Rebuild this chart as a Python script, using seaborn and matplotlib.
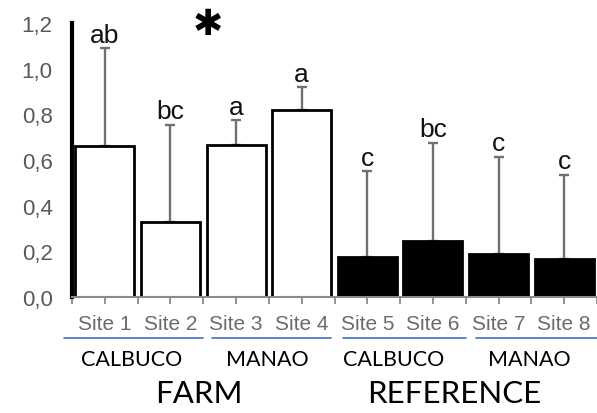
import matplotlib
matplotlib.use("Agg")
import matplotlib.pyplot as plt
import matplotlib.transforms as mtransforms
import seaborn as sns
import pandas as pd

sns.set_theme(style="white")
plt.rcParams["font.family"] = ["Liberation Sans", "DejaVu Sans"]

# Data
sites = ["Site 1", "Site 2", "Site 3", "Site 4", "Site 5", "Site 6", "Site 7", "Site 8"]
means = [0.66, 0.33, 0.665, 0.82, 0.175, 0.245, 0.19, 0.165]
sd_upper = [0.43, 0.425, 0.11, 0.10, 0.375, 0.43, 0.425, 0.37]
letters = ["ab", "bc", "a", "a", "c", "bc", "c", "c"]
habitat = ["FARM"] * 4 + ["REFERENCE"] * 4
locality = ["CALBUCO", "MANAO", "CALBUCO", "MANAO"]
yticks = [0.0, 0.2, 0.4, 0.6, 0.8, 1.0, 1.2]

df = pd.DataFrame({"site": sites, "mean": means, "habitat": habitat})

fig = plt.figure(figsize=(5.97, 4.14), dpi=100)
W, H = 597, 414
ax = fig.add_axes([72 / W, 1 - 298 / H, (597 - 72) / W, (298 - 24) / H])

sns.barplot(data=df, x="site", y="mean", hue="habitat",
            palette={"FARM": "white", "REFERENCE": "black"},
            dodge=False, width=0.9, edgecolor="black", linewidth=2,
            legend=False, ax=ax, zorder=2)

xs = list(range(len(sites)))
ax.errorbar(xs, means, yerr=[[0] * len(means), sd_upper], fmt="none",
            ecolor="#707070", elinewidth=1.7, capsize=3.8, capthick=1.7, zorder=1)

for x, m, s, lab in zip(xs, means, sd_upper, letters):
    ax.text(x, m + s + 0.028, lab, ha="center", va="baseline", fontsize=19, color="#111111")

ax.text(1.57, 1.195, "\u2731", ha="center", va="center", fontsize=26,
        family=["DejaVu Sans"], color="black", clip_on=False)

ax.set_xlim(-0.48, 7.37)
ax.set_ylim(0, 1.2)
ax.set_yticks(yticks)
ax.set_yticklabels([f"{v:.1f}".replace(".", ",") for v in yticks],
                   fontsize=16, color="#595959")
ax.tick_params(axis="y", length=0, pad=14)
ax.set_xticks(xs)
ax.set_xticklabels(sites, fontsize=15, color="#6b6b6b")
ax.set_xticks([x + 0.5 for x in [-1] + xs], minor=True)
ax.tick_params(axis="x", which="both", length=5, width=1.3, color="#8a8a8a",
               direction="out", bottom=True, pad=7.5)
ax.set_xlabel("")
ax.set_ylabel("")

for side in ["top", "right"]:
    ax.spines[side].set_visible(False)
ax.spines["left"].set_color("black")
ax.spines["left"].set_linewidth(3)
ax.spines["bottom"].set_color("#8a8a8a")
ax.spines["bottom"].set_linewidth(1.5)

trans = mtransforms.blended_transform_factory(ax.transData, ax.transAxes)

# Locality underlines and labels
spans = [(-0.62, 1.49), (1.64, 3.45), (3.63, 5.51), (5.66, 7.6)]
for (a, b) in spans:
    ax.plot([a, b], [-0.15, -0.15], transform=trans, color="#4472c4",
            lw=1.2, clip_on=False)
loc_x = [0.41, 2.48, 4.40, 6.47]
for xc, name in zip(loc_x, locality):
    ax.text(xc, -0.228, name, transform=trans, ha="center", va="center",
            fontsize=15.5, family=["Lato", "DejaVu Sans"], color="black")

# Habitat labels
ax.text(1.43, -0.352, "FARM", transform=trans, ha="center", va="center",
        fontsize=22.5, family=["Lato", "DejaVu Sans"], color="black")
ax.text(5.32, -0.352, "REFERENCE", transform=trans, ha="center", va="center",
        fontsize=22.5, family=["Lato", "DejaVu Sans"], color="black")

fig.savefig("out.png", dpi=100, facecolor="white")
